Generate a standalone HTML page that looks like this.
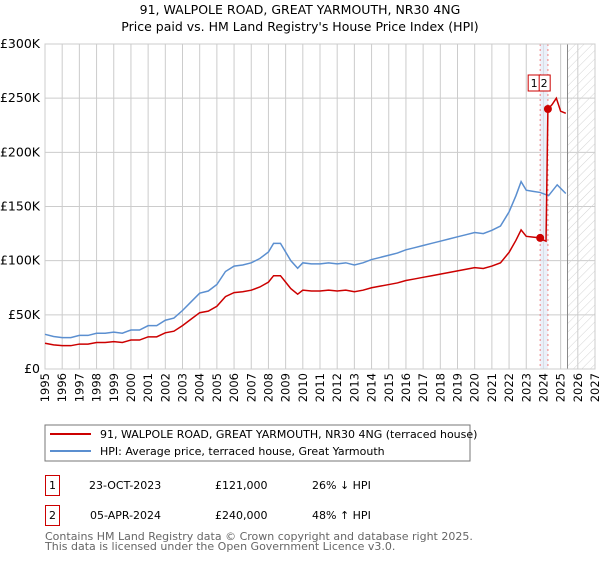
<!DOCTYPE html>
<html><head><meta charset="utf-8"><style>
body{margin:0;background:#fff;font-family:"DejaVu Sans","Liberation Sans",sans-serif;}
svg text{font-family:"DejaVu Sans","Liberation Sans",sans-serif;}
</style></head><body>
<svg id="c" width="600" height="560" xmlns="http://www.w3.org/2000/svg">
<defs><pattern id="hatch" width="6" height="6" patternUnits="userSpaceOnUse" patternTransform="rotate(45)"><line x1="0" y1="0" x2="0" y2="6" stroke="#d4d4d4" stroke-width="1"/></pattern></defs>
<text x="300" y="14" font-size="12.5" text-anchor="middle">91, WALPOLE ROAD, GREAT YARMOUTH, NR30 4NG</text>
<text x="300" y="31" font-size="12.5" text-anchor="middle">Price paid vs. HM Land Registry's House Price Index (HPI)</text>
<g id="grid"></g><g id="marks"></g><g id="axes"></g>
<rect x="45" y="425" width="425" height="36" fill="#fff" stroke="#777"/>
<line x1="50" y1="434" x2="91" y2="434" stroke="#cc0000" stroke-width="2"/>
<text x="100" y="438" font-size="11">91, WALPOLE ROAD, GREAT YARMOUTH, NR30 4NG (terraced house)</text>
<line x1="50" y1="451" x2="91" y2="451" stroke="#5b8fd0" stroke-width="2"/>
<text x="100" y="455" font-size="11">HPI: Average price, terraced house, Great Yarmouth</text>
<g font-size="11">
<rect x="45.5" y="475.5" width="14" height="20" fill="none" stroke="#cc0000"/>
<text x="52.5" y="489" text-anchor="middle">1</text>
<text x="89" y="489">23-OCT-2023</text>
<text x="215" y="489">£121,000</text>
<text x="312" y="489">26% ↓ HPI</text>
<rect x="45.5" y="505.5" width="14" height="20" fill="none" stroke="#cc0000"/>
<text x="52.5" y="519" text-anchor="middle">2</text>
<text x="90" y="519">05-APR-2024</text>
<text x="215" y="519">£240,000</text>
<text x="312" y="519">48% ↑ HPI</text>
</g>
<text x="45" y="540" font-size="11" fill="#666">Contains HM Land Registry data © Crown copyright and database right 2025.</text>
<text x="45" y="550" font-size="11" fill="#666">This data is licensed under the Open Government Licence v3.0.</text>
</svg>
<script>
const hpiYears=[1995,1995.5,1996,1996.5,1997,1997.5,1998,1998.5,1999,1999.5,2000,2000.5,2001,2001.5,2002,2002.5,2003,2003.5,2004,2004.5,2005,2005.5,2006,2006.5,2007,2007.5,2008,2008.3,2008.7,2009,2009.3,2009.7,2010,2010.5,2011,2011.5,2012,2012.5,2013,2013.5,2014,2014.5,2015,2015.5,2016,2016.5,2017,2017.5,2018,2018.5,2019,2019.5,2020,2020.5,2021,2021.5,2022,2022.4,2022.7,2023,2023.4,2023.8,2024.3,2024.8,2025.3];
const hpiValues=[32,30,29,29,31,31,33,33,34,33,36,36,40,40,45,47,54,62,70,72,78,90,95,96,98,102,108,116,116,108,100,93,98,97,97,98,97,98,96,98,101,103,105,107,110,112,114,116,118,120,122,124,126,125,128,132,145,160,173,165,164,163,160,170,162];
const propYears=[2023.81,2024.0,2024.15,2024.26,2024.5,2024.75,2025.0,2025.3];
const propValues=[121,119,118,240,244,250,238,236];
const saleYears=[2023.81,2024.26];
const salePrices=[121,240];
const yTicks=[0,50,100,150,200,250,300];
const yLabels=["£0","£50K","£100K","£150K","£200K","£250K","£300K"];
const xTicks=[1995,1996,1997,1998,1999,2000,2001,2002,2003,2004,2005,2006,2007,2008,2009,2010,2011,2012,2013,2014,2015,2016,2017,2018,2019,2020,2021,2022,2023,2024,2025,2026,2027];
const X0=45,X1=595,Y0=369,Y1=44;
const xs=y=>X0+(y-1995)/(2027-1995)*(X1-X0);
const ys=v=>Y0-v/300*(Y0-Y1);
const NS="http://www.w3.org/2000/svg";
function mk(tag,attrs,parent){const e=document.createElementNS(NS,tag);for(const k in attrs)e.setAttribute(k,attrs[k]);parent.appendChild(e);return e;}
const g=document.getElementById('grid'),m=document.getElementById('marks'),a=document.getElementById('axes');
mk('rect',{x:X0,y:Y1,width:X1-X0,height:Y0-Y1,fill:'#fff'},g);
for(const t of xTicks){const l=mk('line',{x1:xs(t),x2:xs(t),y1:Y1,y2:Y0,stroke:'#ccc'},g);


const tx=mk('text',{x:0,y:0,'font-size':11.5,'text-anchor':'end',transform:`translate(${xs(t)+4},${Y0+4}) rotate(-90)`},a);tx.textContent=t;

}
yTicks.forEach((t,i)=>{const l=mk('line',{x1:X0,x2:X1,y1:ys(t),y2:ys(t),stroke:'#ccc'},g);


const tx=mk('text',{x:40,y:ys(t)+4,'font-size':12.5,'text-anchor':'end'},a);tx.textContent=yLabels[i];

});
const hx=xs(2025.4);
const hr=mk('rect',{x:hx,y:Y1,width:X1-hx,height:Y0-Y1,fill:'url(#hatch)'},g);


mk('line',{x1:hx,x2:hx,y1:Y1,y2:Y0,stroke:'#888'},g);
const band=mk('rect',{x:xs(saleYears[0]),y:Y1,width:xs(saleYears[1])-xs(saleYears[0]),height:Y0-Y1,fill:'#dde6f5',opacity:0.6},g);


saleYears.forEach((y,i)=>{const l=mk('line',{x1:xs(y),x2:xs(y),y1:Y1,y2:Y0,stroke:'#f08080','stroke-dasharray':'2,3'},g);

});
mk('rect',{x:X0,y:Y1,width:X1-X0,height:Y0-Y1,fill:'none',stroke:'#ccc'},g);
const ratio=salePrices[0]/hpiValues[hpiYears.indexOf(2023.8)];
let pts=[];
hpiYears.forEach((y,i)=>{if(y<=saleYears[0])pts.push([xs(y),ys(hpiValues[i]*ratio)]);});
propYears.forEach((y,i)=>pts.push([xs(y),ys(propValues[i])]));
const hp=mk('polyline',{points:hpiYears.map((y,i)=>xs(y)+','+ys(hpiValues[i])).join(' '),fill:'none',stroke:'#5b8fd0','stroke-width':1.5},m);


const pp=mk('polyline',{points:pts.map(p=>p.join(',')).join(' '),fill:'none',stroke:'#cc0000','stroke-width':1.5},m);


saleYears.forEach((y,i)=>{const c=mk('circle',{cx:xs(y),cy:ys(salePrices[i]),r:4,fill:'#cc0000'},m);

});
const bx=xs(saleYears[0])-12,by=Y1+31;
const lb=mk('rect',{x:bx,y:by,width:22,height:16,fill:'#fff',stroke:'#cc0000'},m);


[["1",bx+6],["2",bx+16]].forEach(([t,x])=>{const e=mk('text',{x:x,y:by+12,'font-size':11,'text-anchor':'middle'},m);e.textContent=t;

});
mk('line',{x1:bx+11,x2:bx+11,y1:by,y2:by+16,stroke:'#cc0000'},m);
</script>
</body></html>
